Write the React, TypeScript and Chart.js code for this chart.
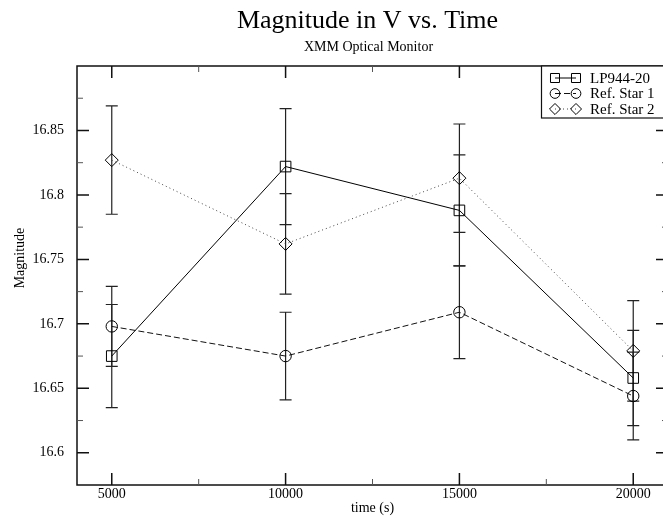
import React, { useEffect, useRef } from 'react';
import { Chart, registerables } from 'chart.js';

Chart.register(...registerables);

// ---- data ----
const times = [5000, 10000, 15000, 20000];
const lp944 = [16.675, 16.822, 16.788, 16.658];
const lp944Err = [0.04, 0.045, 0.043, 0.037];
const refStar1 = [16.698, 16.675, 16.709, 16.644];
const refStar1Err = [0.031, 0.034, 0.036, 0.034];
const refStar2 = [16.827, 16.762, 16.813, 16.679];
const refStar2Err = [0.042, 0.039, 0.042, 0.039];

const seriesNames = ['LP944-20', 'Ref. Star 1', 'Ref. Star 2'];

// ---- axes ----
const xMin = 4000;
const xMax = 21000;
const yMin = 16.575;
const yMax = 16.9;
const xMajorTicks = [5000, 10000, 15000, 20000];
const xTickLabels = ['5000', '10000', '15000', '20000'];
const xMinorTicks = [7500, 12500, 17500];
const yMajorTicks = [16.6, 16.65, 16.7, 16.75, 16.8, 16.85];
const yTickLabels = ['16.6', '16.65', '16.7', '16.75', '16.8', '16.85'];
const yMinorTicks = [16.625, 16.675, 16.725, 16.775, 16.825, 16.875];

const titleText = 'Magnitude in V vs. Time';
const subtitleText = 'XMM Optical Monitor';
const xTitle = 'time (s)';
const yTitle = 'Magnitude';

const FONT = '"Liberation Serif", "Times New Roman", serif';

const styles = [
  { color: '#000', dash: [] as number[], shape: 'rect', radius: 7.5 },
  { color: '#111', dash: [6, 3], shape: 'circle', radius: 5.7 },
  { color: '#444', dash: [1, 3], shape: 'rectRot', radius: 6.5 },
];

function drawMarker(ctx: CanvasRenderingContext2D, shape: string, x: number, y: number, r: number) {
  ctx.beginPath();
  if (shape === 'rect') {
    const s = Math.SQRT1_2 * r;
    ctx.rect(x - s, y - s, 2 * s, 2 * s);
  } else if (shape === 'circle') {
    ctx.arc(x, y, r, 0, Math.PI * 2);
  } else {
    ctx.moveTo(x - r, y);
    ctx.lineTo(x, y - r);
    ctx.lineTo(x + r, y);
    ctx.lineTo(x, y + r);
    ctx.closePath();
  }
  ctx.stroke();
}

const errorBarsPlugin = {
  id: 'errorBars',
  beforeDatasetsDraw(chart: any) {
    const ctx = chart.ctx as CanvasRenderingContext2D;
    const xs = chart.scales.x;
    const ys = chart.scales.y;
    const vals = [lp944, refStar1, refStar2];
    const errs = [lp944Err, refStar1Err, refStar2Err];
    ctx.save();
    ctx.strokeStyle = '#222';
    ctx.lineWidth = 1.2;
    for (let s = 0; s < vals.length; s++) {
      for (let i = 0; i < times.length; i++) {
        const px = xs.getPixelForValue(times[i]);
        const top = ys.getPixelForValue(vals[s][i] + errs[s][i]);
        const bot = ys.getPixelForValue(vals[s][i] - errs[s][i]);
        ctx.beginPath();
        ctx.moveTo(px, top);
        ctx.lineTo(px, bot);
        ctx.moveTo(px - 6, top);
        ctx.lineTo(px + 6, top);
        ctx.moveTo(px - 6, bot);
        ctx.lineTo(px + 6, bot);
        ctx.stroke();
      }
    }
    ctx.restore();
  },
};

const decorPlugin = {
  id: 'decor',
  afterDraw(chart: any) {
    const ctx = chart.ctx as CanvasRenderingContext2D;
    const area = chart.chartArea;
    const xs = chart.scales.x;
    const ys = chart.scales.y;
    ctx.save();
    // frame
    ctx.strokeStyle = '#111';
    ctx.lineWidth = 1.5;
    ctx.strokeRect(area.left, area.top, area.right - area.left, area.bottom - area.top);
    // ticks
    const tick = (vals: number[], len: number, width: number, color: string) => {
      ctx.strokeStyle = color;
      ctx.lineWidth = width;
      ctx.beginPath();
      for (const v of vals) {
        const py = ys.getPixelForValue(v);
        ctx.moveTo(area.left, py);
        ctx.lineTo(area.left + len, py);
        ctx.moveTo(area.right, py);
        ctx.lineTo(area.right - len, py);
      }
      ctx.stroke();
    };
    const tickX = (vals: number[], len: number, width: number, color: string) => {
      ctx.strokeStyle = color;
      ctx.lineWidth = width;
      ctx.beginPath();
      for (const v of vals) {
        const px = xs.getPixelForValue(v);
        ctx.moveTo(px, area.bottom);
        ctx.lineTo(px, area.bottom - len);
        ctx.moveTo(px, area.top);
        ctx.lineTo(px, area.top + len);
      }
      ctx.stroke();
    };
    tick(yMajorTicks, 12, 1.5, '#111');
    tick(yMinorTicks, 6, 1, '#555');
    tickX(xMajorTicks, 12, 1.5, '#111');
    tickX(xMinorTicks, 6, 1, '#555');

    // titles
    const cx = (area.left + area.right) / 2;
    ctx.fillStyle = '#000';
    ctx.textAlign = 'center';
    ctx.textBaseline = 'alphabetic';
    ctx.font = `26px ${FONT}`;
    ctx.fillText(titleText, cx - 5, 28);
    ctx.font = `14px ${FONT}`;
    ctx.fillText(subtitleText, cx - 4, 51);
    // axis titles
    ctx.textBaseline = 'middle';
    ctx.font = `14px ${FONT}`;
    ctx.fillText(xTitle, cx, 508);
    ctx.save();
    ctx.translate(20, 258);
    ctx.rotate(-Math.PI / 2);
    ctx.fillText(yTitle, 0, 0);
    ctx.restore();

    // legend
    const lx = 541.5;
    const ly = area.top;
    ctx.fillStyle = '#fff';
    ctx.fillRect(lx, ly, 200, 52);
    ctx.strokeStyle = '#111';
    ctx.lineWidth = 1.2;
    ctx.strokeRect(lx, ly, 200, 52);
    const rows = [78, 93.5, 109];
    for (let s = 0; s < seriesNames.length; s++) {
      const st = styles[s];
      const y = rows[s];
      ctx.strokeStyle = st.color;
      ctx.lineWidth = 1;
      ctx.setLineDash(st.dash);
      ctx.beginPath();
      ctx.moveTo(555, y);
      ctx.lineTo(576, y);
      ctx.stroke();
      ctx.setLineDash([]);
      ctx.strokeStyle = '#000';
      drawMarker(ctx, st.shape, 555, y, st.radius * 0.85);
      drawMarker(ctx, st.shape, 576, y, st.radius * 0.85);
      ctx.fillStyle = '#000';
      ctx.textAlign = 'left';
      ctx.textBaseline = 'middle';
      ctx.font = `15px ${FONT}`;
      ctx.fillText(seriesNames[s], 590, y + 1);
    }
    ctx.restore();
  },
};

export default function App() {
  const ref = useRef<HTMLCanvasElement | null>(null);

  useEffect(() => {
    if (!ref.current) return;
    const vals = [lp944, refStar1, refStar2];
    const datasets = vals.map((v, s) => ({
      label: seriesNames[s],
      data: times.map((t, i) => ({ x: t, y: v[i] })),
      borderColor: styles[s].color,
      borderWidth: 1,
      borderDash: styles[s].dash,
      tension: 0,
      fill: false,
      pointStyle: styles[s].shape,
      pointRadius: styles[s].radius,
      pointBorderColor: '#000',
      pointBackgroundColor: 'rgba(0,0,0,0)',
      pointBorderWidth: 1,
    }));
    const chart = new Chart(ref.current, {
      type: 'line',
      data: { datasets },
      options: {
        animation: false,
        responsive: false,
        maintainAspectRatio: false,
        devicePixelRatio: 1,
        layout: { padding: { top: 66, right: 12, left: 0, bottom: 0 } },
        plugins: {
          legend: { display: false },
          title: { display: false },
          tooltip: { enabled: false },
        },
        scales: {
          x: {
            type: 'linear',
            min: xMin,
            max: xMax,
            grid: { display: false, drawTicks: false },
            border: { display: false },
            afterBuildTicks: (s: any) => {
              s.ticks = xMajorTicks.map((v) => ({ value: v }));
            },
            afterFit: (s: any) => {
              s.height = 33;
            },
            ticks: {
              autoSkip: false,
              maxRotation: 0,
              padding: 1,
              color: '#000',
              font: { family: FONT, size: 14 },
              callback: (_v: any, i: number) => xTickLabels[i],
            },
          },
          y: {
            type: 'linear',
            min: yMin,
            max: yMax,
            grid: { display: false, drawTicks: false },
            border: { display: false },
            afterBuildTicks: (s: any) => {
              s.ticks = yMajorTicks.map((v) => ({ value: v }));
            },
            afterFit: (s: any) => {
              s.width = 77;
            },
            ticks: {
              autoSkip: false,
              padding: 13,
              color: '#000',
              font: { family: FONT, size: 14 },
              callback: (_v: any, i: number) => yTickLabels[i],
            },
          },
        },
      },
      plugins: [errorBarsPlugin, decorPlugin],
    } as any);
    return () => chart.destroy();
  }, []);

  return (
    <div style={{ position: 'absolute', left: 0, top: 0, width: 663, height: 518, overflow: 'hidden', background: '#fff' }}>
      <canvas ref={ref} width={680} height={518} style={{ width: 680, height: 518, display: 'block' }} />
    </div>
  );
}
